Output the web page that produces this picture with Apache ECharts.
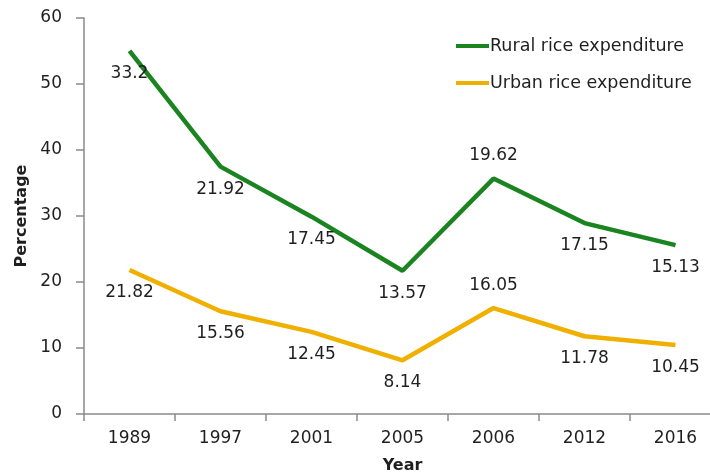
<!DOCTYPE html>
<html><head><meta charset="utf-8">
<script src="https://cdn.jsdelivr.net/npm/echarts@6/dist/echarts.min.js"></script>
<style>html,body{margin:0;padding:0;background:#fff}#c{width:710px;height:474px}</style>
</head><body><div id="c"></div>
<script>
const years = ['1989','1997','2001','2005','2006','2012','2016'];
const urban = [21.82, 15.56, 12.45, 8.14, 16.05, 11.78, 10.45];
const ruralOverUrban = [33.2, 21.92, 17.45, 13.57, 19.62, 17.15, 15.13];
const labelAbove = ['2006'];
const yTicks = [0, 10, 20, 30, 40, 50, 60];

const FONT = 'DejaVu Sans';
const TXT = '#1f1f1f';
function mkData(vals){
  return vals.map((v,i)=>({value:v, label:{position: labelAbove.includes(years[i]) ? 'top' : 'bottom'}}));
}
const chart = echarts.init(document.getElementById('c'), null, {renderer:'canvas'});
chart.setOption({
  animation:false,
  backgroundColor:'#fff',
  textStyle:{fontFamily:FONT},
  grid:{left:84, top:18, width:637, height:396, containLabel:false, outerBoundsMode:'none'},
  legend:{
    orient:'vertical', left:451, top:32, itemGap:19, itemWidth:33, itemHeight:4,
    icon:'rect',
    textStyle:{fontFamily:FONT, fontSize:17.5, color:TXT, padding:[0,0,0,-4]},
    data:['Rural rice expenditure','Urban rice expenditure']
  },
  xAxis:{
    type:'category', data:years, boundaryGap:true,
    name:'Year', nameLocation:'middle', nameGap:44,
    nameTextStyle:{fontFamily:FONT, fontWeight:'bold', fontSize:16, color:TXT},
    axisLine:{lineStyle:{color:'#8a8a8a', width:1.5}},
    axisTick:{show:true, length:7, lineStyle:{color:'#8a8a8a', width:1.5}},
    axisLabel:{fontFamily:FONT, fontSize:17, color:TXT, margin:16}
  },
  yAxis:{
    type:'value', min:0, max:60, interval:10,
    name:'Percentage', nameLocation:'middle', nameGap:50,
    nameTextStyle:{fontFamily:FONT, fontWeight:'bold', fontSize:16, color:TXT},
    axisLine:{show:true, lineStyle:{color:'#8a8a8a', width:1.5}},
    axisTick:{show:true, length:8, lineStyle:{color:'#8a8a8a', width:1.5}},
    splitLine:{show:false},
    axisLabel:{fontFamily:FONT, fontSize:17, color:TXT, margin:22,
      formatter:v=>yTicks.includes(v)?String(v):''}
  },
  series:[
    {name:'Urban rice expenditure', type:'line', stack:'total', data:mkData(urban),
     symbol:'circle', symbolSize:0, showSymbol:true, color:'#efb000',
     lineStyle:{width:4.5, color:'#efb000'},
     label:{show:true, fontFamily:FONT, fontSize:17, color:TXT, distance:14}},
    {name:'Rural rice expenditure', type:'line', stack:'total', data:mkData(ruralOverUrban),
     symbol:'circle', symbolSize:0, showSymbol:true, color:'#1a8420',
     lineStyle:{width:4.5, color:'#1a8420'},
     label:{show:true, fontFamily:FONT, fontSize:17, color:TXT, distance:14}}
  ]
});
</script></body></html>
